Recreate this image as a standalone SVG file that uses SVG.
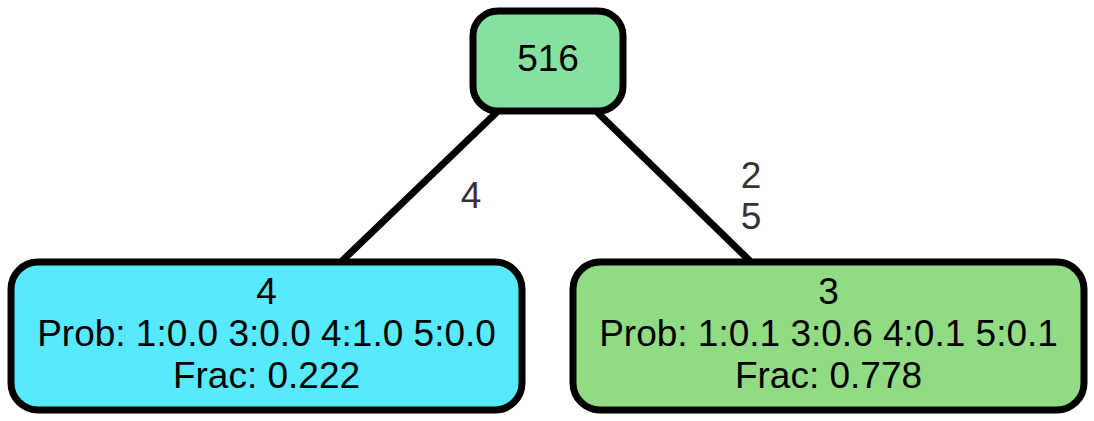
<svg xmlns="http://www.w3.org/2000/svg" width="1094" height="421" viewBox="0 0 1094 421">
<style>
.node rect{stroke:#000;stroke-width:7}
.t{font-family:"Liberation Sans",Arial,sans-serif;font-size:37px;fill:#000;text-anchor:middle}
.lbl{font-family:"Liberation Sans",Arial,sans-serif;font-size:37px;fill:#333;text-anchor:middle}
.edge{stroke:#000;stroke-width:7;fill:none}
</style>
<rect width="1094" height="421" fill="#fff"/>
<g id="connectors">
<line class="edge" x1="497" y1="112" x2="342" y2="261"/>
<text class="lbl" x="471" y="208">4</text>
<line class="edge" x1="597" y1="112" x2="750" y2="261"/>
<text class="lbl" x="751" y="188">2</text>
<text class="lbl" x="751" y="229">5</text>
</g>
<g id="node-516" class="node">
<rect x="473" y="11" width="150" height="100" rx="25" fill="#86e0a0"/>
<text class="t" x="548" y="71">516</text>
</g>
<g id="node-4" class="node">
<rect x="11" y="262" width="511" height="148" rx="27" fill="#57e9fd"/>
<text class="t" x="266.5" y="304">4</text>
<text class="t" x="266.5" y="346">Prob: 1:0.0 3:0.0 4:1.0 5:0.0</text>
<text class="t" x="266.5" y="388">Frac: 0.222</text>
</g>
<g id="node-3" class="node">
<rect x="573" y="262" width="511" height="148" rx="27" fill="#90db84"/>
<text class="t" x="828.5" y="304">3</text>
<text class="t" x="828.5" y="346">Prob: 1:0.1 3:0.6 4:0.1 5:0.1</text>
<text class="t" x="828.5" y="388">Frac: 0.778</text>
</g>
</svg>
